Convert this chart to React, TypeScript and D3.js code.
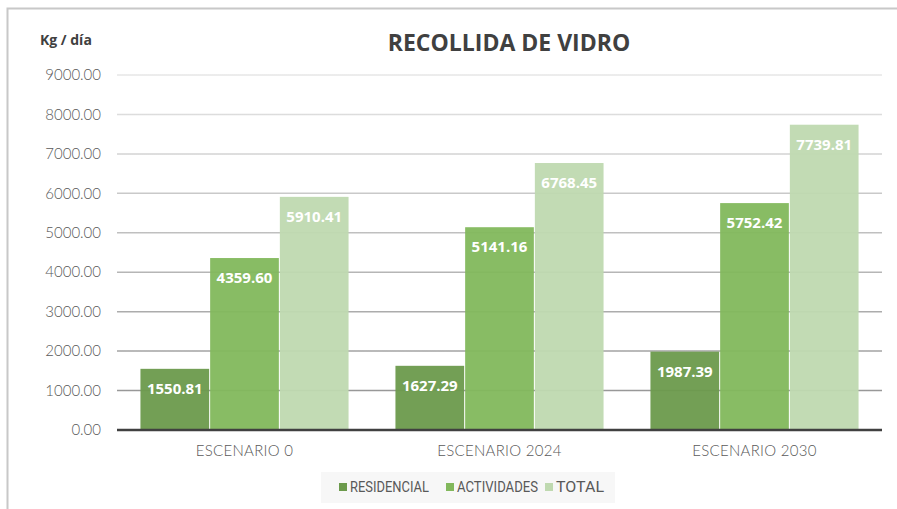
import React, { useEffect, useRef } from 'react';
import * as d3 from 'd3';

const categories = ['ESCENARIO 0', 'ESCENARIO 2024', 'ESCENARIO 2030'];
const seriesNames = ['RESIDENCIAL', 'ACTIVIDADES', 'TOTAL'];
const residencial = [1550.81, 1627.29, 1987.39];
const actividades = [4359.6, 5141.16, 5752.42];
const total = [5910.41, 6768.45, 7739.81];
const yTicks = [0, 1000, 2000, 3000, 4000, 5000, 6000, 7000, 8000, 9000];
const colors = ['#6c9a4c', '#82b85c', '#bfd9b0'];

const W = 897;
const H = 509;

const App = () => {
  const ref = useRef<SVGSVGElement>(null);

  useEffect(() => {
    const svg = d3.select(ref.current);
    svg.selectAll('*').remove();

    const left = 117, right = 882, top = 75, bottom = 430;
    const series = [residencial, actividades, total];
    const axisFont = 'Lato, "Noto Sans", sans-serif';

    const x0 = d3.scaleBand().domain(categories).range([left, right]).paddingInner(0.18).paddingOuter(0.09);
    const x1 = d3.scaleBand().domain(seriesNames).range([0, x0.bandwidth()]);
    const y = d3.scaleLinear().domain([0, 9000]).range([bottom, top]);

    // frame (only top/left visible)
    svg.append('path')
      .attr('d', `M7.5,${H} V8.5 H${W}`)
      .attr('fill', 'none')
      .attr('stroke', '#c8c8c8')
      .attr('stroke-width', 2);

    // gridline gradient: lighter at top
    const grad = svg.append('defs').append('linearGradient')
      .attr('id', 'gridGrad')
      .attr('gradientUnits', 'userSpaceOnUse')
      .attr('x1', 0).attr('y1', top).attr('x2', 0).attr('y2', bottom);
    grad.append('stop').attr('offset', '0%').attr('stop-color', '#e6e6e6');
    grad.append('stop').attr('offset', '100%').attr('stop-color', '#8f8f8f');

    svg.append('g')
      .selectAll('line')
      .data(yTicks.filter(t => t > 0))
      .enter().append('line')
      .attr('x1', left).attr('x2', right)
      .attr('y1', d => y(d)).attr('y2', d => y(d))
      .attr('stroke', 'url(#gridGrad)')
      .attr('stroke-width', 1.5);

    // y tick labels
    svg.append('g')
      .selectAll('text')
      .data(yTicks)
      .enter().append('text')
      .attr('x', 101)
      .attr('y', d => y(d))
      .attr('dy', '0.35em')
      .attr('text-anchor', 'end')
      .attr('fill', '#595959')
      .style('font-family', axisFont)
      .style('font-weight', 300)
      .style('font-size', '15px')
      .text(d => d.toFixed(2));

    // bars
    const groups = svg.append('g')
      .selectAll('g')
      .data(categories)
      .enter().append('g')
      .attr('transform', d => `translate(${x0(d)},0)`);

    groups.each(function (cat, ci) {
      const g = d3.select(this);
      seriesNames.forEach((name, si) => {
        const v = series[si][ci];
        g.append('rect')
          .attr('x', x1(name)! + 0.5)
          .attr('y', y(v))
          .attr('width', x1.bandwidth() - 1)
          .attr('height', y(0) - y(v))
          .attr('fill', colors[si])
          .attr('fill-opacity', 0.95);
        g.append('text')
          .attr('x', x1(name)! + x1.bandwidth() / 2)
          .attr('y', y(v) + 25)
          .attr('text-anchor', 'middle')
          .attr('fill', '#ffffff')
          .style('font-family', '"Open Sans", sans-serif')
          .style('font-weight', 'bold')
          .style('font-size', '15px')
          .text(v.toFixed(2));
      });
    });

    // baseline
    svg.append('line')
      .attr('x1', left).attr('x2', right)
      .attr('y1', y(0)).attr('y2', y(0))
      .attr('stroke', '#404040')
      .attr('stroke-width', 2.5);

    // x labels
    svg.append('g')
      .selectAll('text')
      .data(categories)
      .enter().append('text')
      .attr('x', d => x0(d)! + x0.bandwidth() / 2)
      .attr('y', 456)
      .attr('text-anchor', 'middle')
      .attr('fill', '#595959')
      .style('font-family', axisFont)
      .style('font-weight', 300)
      .style('font-size', '15px')
      .style('letter-spacing', '0.3px')
      .text(d => d);

    // title
    svg.append('text')
      .attr('x', 509)
      .attr('y', 51)
      .attr('text-anchor', 'middle')
      .attr('fill', '#404040')
      .style('font-family', '"Open Sans", sans-serif')
      .style('font-weight', 'bold')
      .style('font-size', '23px')
      .text('RECOLLIDA DE VIDRO');

    // y unit
    svg.append('text')
      .attr('x', 40)
      .attr('y', 45)
      .attr('fill', '#404040')
      .style('font-family', '"Open Sans", sans-serif')
      .style('font-weight', 'bold')
      .style('font-size', '14px')
      .text('Kg / día');

    // legend
    const legend = svg.append('g');
    legend.append('rect')
      .attr('x', 321).attr('y', 472)
      .attr('width', 294).attr('height', 31)
      .attr('fill', '#f7f7f7');
    const legendX = [339, 446, 545];
    const legendLen = [79, 81, 48];
    seriesNames.forEach((name, i) => {
      legend.append('rect')
        .attr('x', legendX[i]).attr('y', 483)
        .attr('width', 8).attr('height', 8)
        .attr('fill', colors[i]);
      legend.append('text')
        .attr('x', legendX[i] + 11)
        .attr('y', 492)
        .attr('fill', '#595959')
        .attr('textLength', legendLen[i])
        .attr('lengthAdjust', 'spacingAndGlyphs')
        .style('font-family', 'Roboto, sans-serif')
        .style('font-size', '15px')
        .text(name);
    });
  }, []);

  return (
    <svg ref={ref} width={W} height={H} style={{ position: 'absolute', left: 0, top: 0, background: '#fff' }} />
  );
};

export default App;
